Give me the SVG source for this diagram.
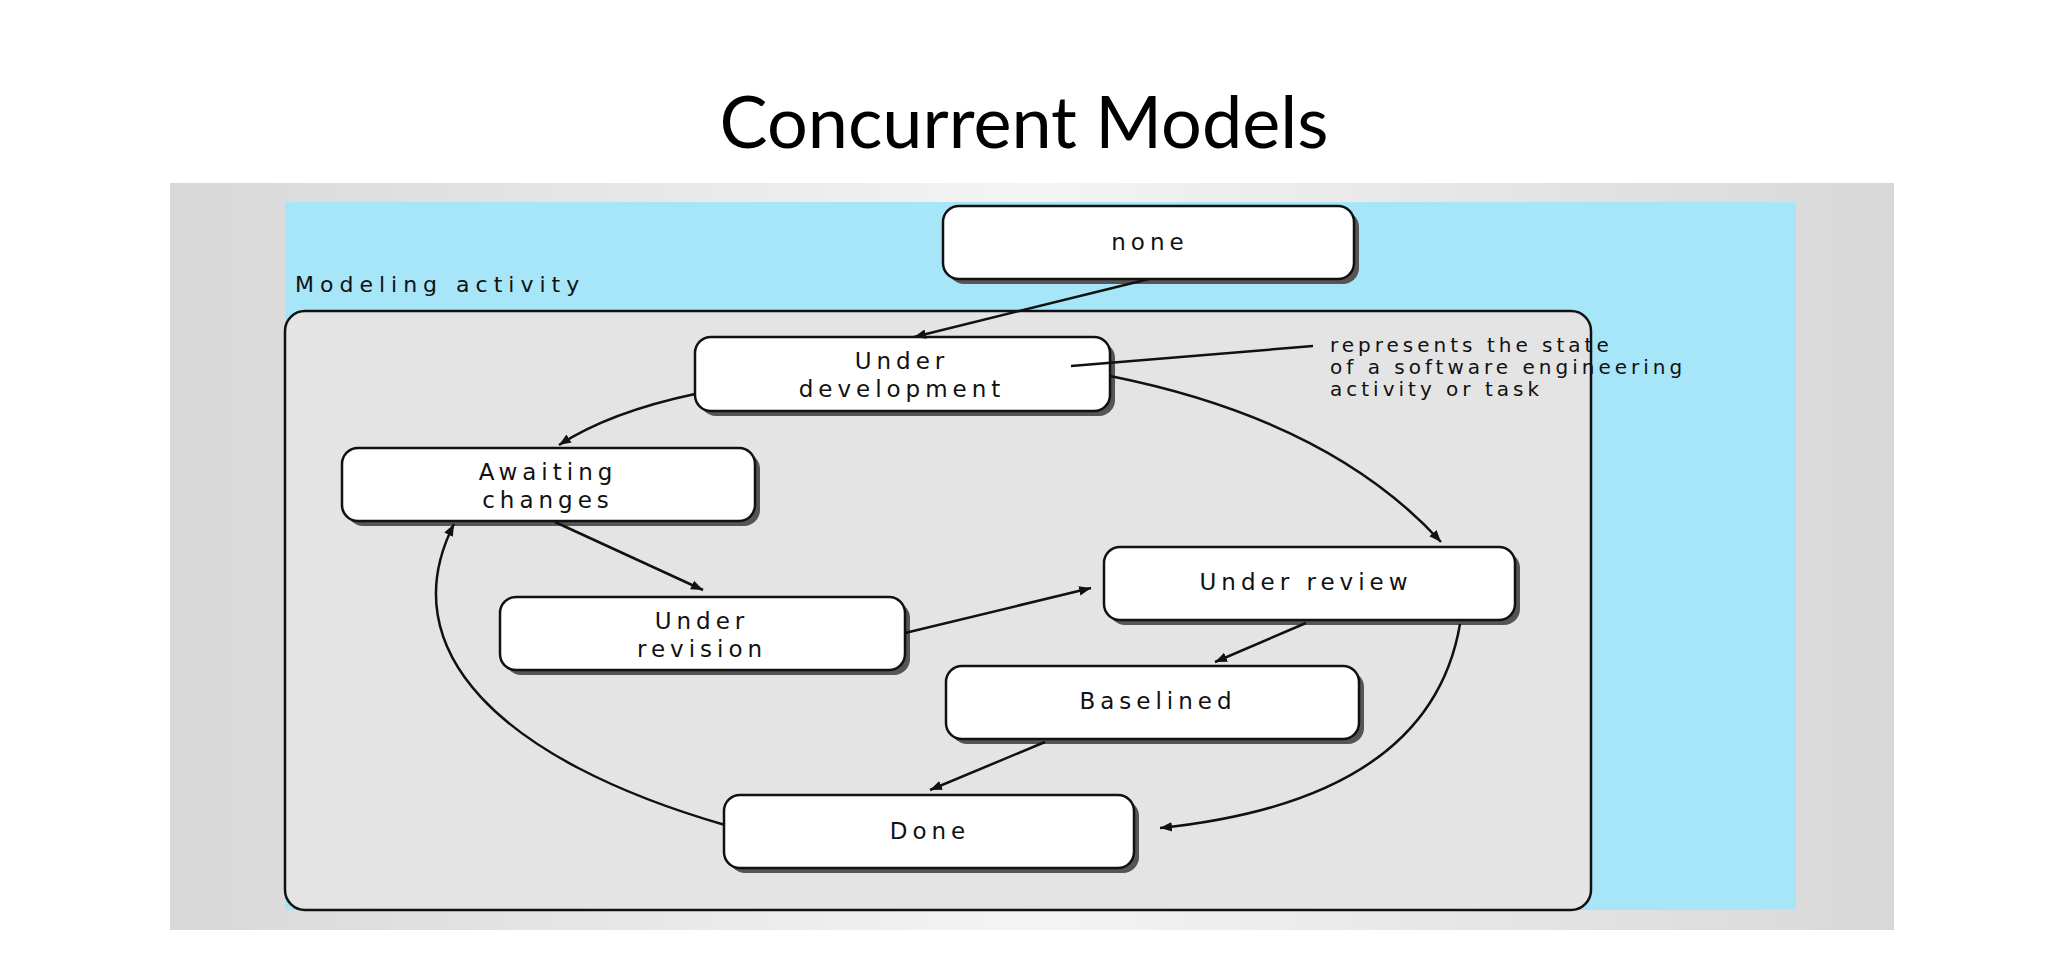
<svg xmlns="http://www.w3.org/2000/svg" width="2048" height="975" viewBox="0 0 2048 975">
<defs>
<linearGradient id="bg" x1="0" y1="0" x2="1" y2="0"><stop offset="0" stop-color="#d8d8d8"/><stop offset="0.5" stop-color="#f4f4f4"/><stop offset="1" stop-color="#d8d8d8"/></linearGradient>
<marker id="ah" viewBox="0 0 10 10" refX="10" refY="5" markerWidth="12" markerHeight="12" orient="auto" markerUnits="userSpaceOnUse"><path d="M0,1 L10,5 L0,9 z" fill="#111"/></marker>
</defs>
<style>
.node rect.s{fill:#555}
.node rect.b{fill:#fff;stroke:#111;stroke-width:2.5}
.node text{font-family:"DejaVu Sans",sans-serif;font-size:23px;letter-spacing:5px;fill:#111;text-anchor:middle}
.lbl{font-family:"DejaVu Sans",sans-serif;font-size:20px;letter-spacing:4px;fill:#111}
.c path,.c line{fill:none;stroke:#111;stroke-width:2.5}
</style>
<rect width="2048" height="975" fill="#fff"/>
<text x="1024" y="148" font-family="Lato,'Liberation Sans',sans-serif" font-size="72" text-anchor="middle" fill="#000">Concurrent Models</text>
<rect x="170" y="183" width="1724" height="747" fill="url(#bg)"/>
<rect x="285" y="202" width="1511" height="708" fill="#a6e6f8"/>
<rect x="285" y="311" width="1306" height="599" rx="20" fill="#e4e4e4" stroke="#111" stroke-width="2.5"/>
<text x="295" y="292" class="lbl" font-size="22" style="font-size:22px;letter-spacing:6px">Modeling activity</text>
<g id="n-none" class="node"><rect class="s" x="948" y="211" width="411" height="73" rx="16"/><rect class="b" x="943" y="206" width="411" height="73" rx="16"/><text x="1150" y="250">none</text></g>
<g id="n-dev" class="node"><rect class="s" x="700" y="342" width="415" height="74" rx="16"/><rect class="b" x="695" y="337" width="415" height="74" rx="16"/><text x="902" y="369">Under</text><text x="902" y="397">development</text></g>
<g id="n-await" class="node"><rect class="s" x="347" y="453" width="413" height="73" rx="16"/><rect class="b" x="342" y="448" width="413" height="73" rx="16"/><text x="548" y="480">Awaiting</text><text x="548" y="508">changes</text></g>
<g id="n-rev" class="node"><rect class="s" x="505" y="602" width="405" height="73" rx="16"/><rect class="b" x="500" y="597" width="405" height="73" rx="16"/><text x="702" y="629">Under</text><text x="702" y="657">revision</text></g>
<g id="n-review" class="node"><rect class="s" x="1109" y="552" width="411" height="73" rx="16"/><rect class="b" x="1104" y="547" width="411" height="73" rx="16"/><text x="1306" y="590">Under review</text></g>
<g id="n-base" class="node"><rect class="s" x="951" y="671" width="413" height="73" rx="16"/><rect class="b" x="946" y="666" width="413" height="73" rx="16"/><text x="1158" y="709">Baselined</text></g>
<g id="n-done" class="node"><rect class="s" x="729" y="800" width="410" height="73" rx="16"/><rect class="b" x="724" y="795" width="410" height="73" rx="16"/><text x="930" y="839">Done</text></g>
<g id="annot"><text class="lbl" x="1330" y="352">represents the state</text><text class="lbl" x="1330" y="374">of a software engineering</text><text class="lbl" x="1330" y="396">activity or task</text></g>
<g class="c" id="connectors">
<line x1="1149" y1="279" x2="914" y2="337" marker-end="url(#ah)"/>
<line x1="1071" y1="366" x2="1313" y2="346"/>
<path d="M695,394 Q610,412 559,445" marker-end="url(#ah)"/>
<path d="M1110,376 Q1330,420 1441,542" marker-end="url(#ah)"/>
<line x1="555" y1="522" x2="703" y2="590" marker-end="url(#ah)"/>
<line x1="905" y1="633" x2="1091" y2="588" marker-end="url(#ah)"/>
<line x1="1306" y1="623" x2="1215" y2="662" marker-end="url(#ah)"/>
<path d="M1460,624 Q1430,800 1160,828" marker-end="url(#ah)"/>
<line x1="1045" y1="742" x2="930" y2="790" marker-end="url(#ah)"/>
<path d="M725,825 C500,760 390,650 454,524" marker-end="url(#ah)"/>
</g>
</svg>
